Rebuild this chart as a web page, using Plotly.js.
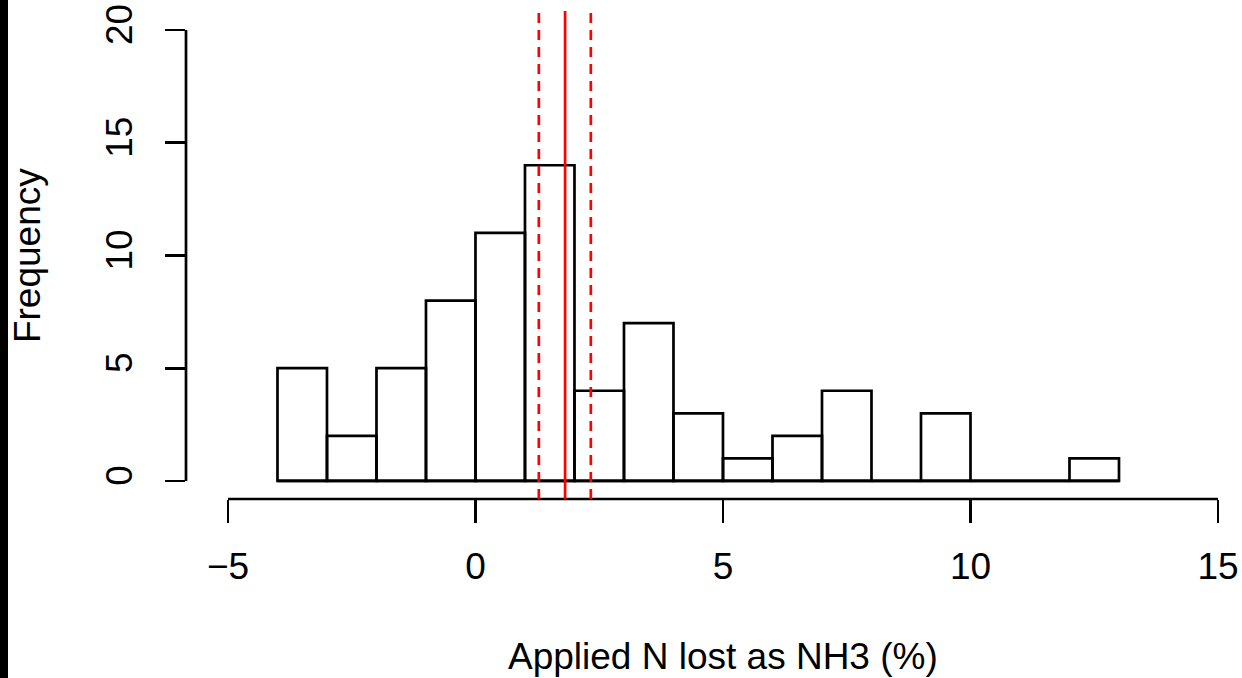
<!DOCTYPE html>
<html>
<head>
<meta charset="utf-8">
<script src="https://cdn.plot.ly/plotly-3.0.1.min.js"></script>
<style>
html,body{margin:0;padding:0;background:#fff;}
#wrap{position:relative;width:1242px;height:678px;overflow:hidden;}
#chart{position:absolute;left:0;top:0;width:1242px;height:678px;}
#strip{position:absolute;left:0;top:0;width:8px;height:678px;background:#000;}
</style>
</head>
<body>
<div id="wrap"><div id="chart"></div><div id="strip"></div></div>
<script>
// Histogram bins (width 1) and counts
const breaks = [-4,-3,-2,-1,0,1,2,3,4,5,6,7,8,9,10,11,12,13];
const counts = [5,2,5,8,11,14,4,7,3,1,2,4,0,3,0,0,1];
// Red reference lines: mean and its interval
const meanLine = 1.81;
const ciLines = [1.28, 2.33];
// Axis ticks
const xTicks = [-5,0,5,10,15];
const yTicks = [0,5,10,15,20];
const xTitle = "Applied N lost as NH3 (%)";
const yTitle = "Frequency";

const mids = counts.map((c,i)=> (breaks[i]+breaks[i+1])/2);
const widths = counts.map((c,i)=> breaks[i+1]-breaks[i]);

const font = "Liberation Sans, Arial, Helvetica, sans-serif";
const LW = 2.7;

const traces = [{
  type:'bar', x:mids, y:counts, width:widths,
  marker:{color:'rgba(255,255,255,0)', line:{color:'#000', width:LW}},
  hoverinfo:'x+y', showlegend:false
}];

const shapes = [];
// baseline of histogram (visible where bins are empty)
shapes.push({type:'line', xref:'x', yref:'y', x0:breaks[0], x1:breaks[breaks.length-1], y0:0, y1:0,
  line:{color:'#000', width:LW}, layer:'below'});
// x axis line
shapes.push({type:'line', xref:'x', yref:'paper', x0:xTicks[0], x1:xTicks[xTicks.length-1], y0:0, y1:0,
  line:{color:'#000', width:LW}});
// y axis line
shapes.push({type:'line', xref:'paper', yref:'y', x0:0, x1:0, y0:yTicks[0], y1:yTicks[yTicks.length-1],
  line:{color:'#000', width:LW}});
// mean (solid) and interval (dashed)
shapes.push({type:'line', xref:'x', yref:'paper', x0:meanLine, x1:meanLine, y0:0, y1:1,
  line:{color:'#ff0000', width:2.7}});
ciLines.forEach(v=>shapes.push({type:'line', xref:'x', yref:'paper', x0:v, x1:v, y0:0, y1:1,
  line:{color:'#ff0000', width:2.7, dash:'10px,7px'}}));

const layout = {
  width:1242, height:678,
  margin:{l:186, r:0, t:11, b:179, pad:0},
  paper_bgcolor:'#fff', plot_bgcolor:'#fff',
  font:{family:font, color:'#000', size:37},
  showlegend:false,
  xaxis:{
    range:[-5.848, 15.485], showgrid:false, zeroline:false, showline:false,
    tickmode:'array', tickvals:xTicks, ticktext:xTicks.map(v=> v<0 ? '\u2212'+Math.abs(v) : String(v)),
    ticks:'outside', ticklen:23, tickwidth:LW, tickcolor:'#000', ticklabelstandoff:12,
    tickfont:{family:font, size:37, color:'#000'}, fixedrange:true
  },
  yaxis:{
    range:[-0.8, 20.84], showgrid:false, zeroline:false, showline:false,
    tickmode:'array', tickvals:yTicks, ticktext:yTicks.map(String),
    ticks:'outside', ticklen:20, tickwidth:LW, tickcolor:'#000', tickangle:-90, ticklabelstandoff:18,
    tickfont:{family:font, size:37, color:'#000'}, fixedrange:true
  },
  shapes:shapes,
  annotations:[
    {xref:'x', yref:'paper', x:(xTicks[0]+xTicks[xTicks.length-1])/2, y:-0.322, yanchor:'middle', xanchor:'center',
     text:xTitle, showarrow:false, font:{family:font, size:37, color:'#000'}},
    {xref:'paper', yref:'y', x:-0.15, y:10, xanchor:'center', yanchor:'middle', textangle:-90,
     text:yTitle, showarrow:false, font:{family:font, size:37, color:'#000'}}
  ]
};

Plotly.newPlot('chart', traces, layout, {displayModeBar:false, staticPlot:true});
</script>
</body>
</html>
